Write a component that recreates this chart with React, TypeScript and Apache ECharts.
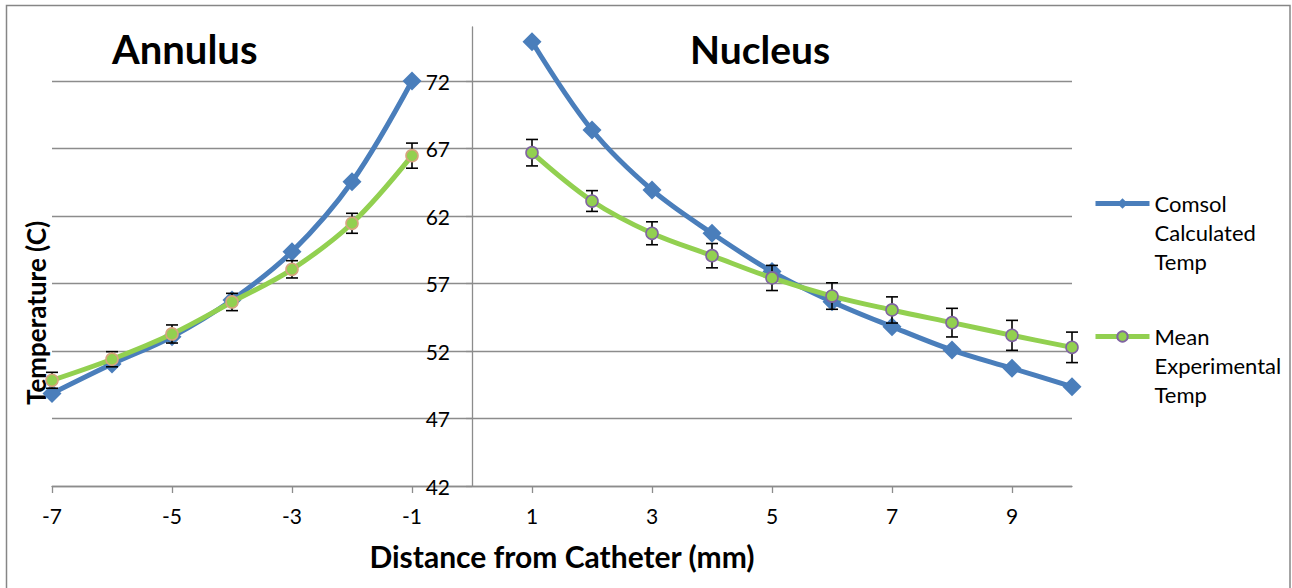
import React, { useEffect, useRef } from "react";
import * as echarts from "echarts";

// ---- data ----
const xAnnulus = [-7, -6, -5, -4, -3, -2, -1];
const xNucleus = [1, 2, 3, 4, 5, 6, 7, 8, 9, 10];

const comsolAnnulus = [48.86, 51.04, 53.06, 55.78, 59.36, 64.54, 72.0];
const comsolNucleus = [74.91, 68.37, 63.93, 60.72, 57.88, 55.65, 53.8, 52.07, 50.72, 49.36];

const meanAnnulus = [49.83, 51.39, 53.26, 55.63, 58.05, 61.46, 66.47];
const meanNucleus = [66.69, 63.11, 60.72, 59.06, 57.41, 56.07, 55.04, 54.1, 53.16, 52.27];

const errAnnulus = [0.59, 0.56, 0.67, 0.64, 0.64, 0.74, 0.93];
const errNucleus = [0.98, 0.77, 0.85, 0.9, 0.93, 0.98, 0.97, 1.06, 1.11, 1.13];

const xTickValues = [-7, -5, -3, -1, 1, 3, 5, 7, 9];
const yTickValues = [42, 47, 52, 57, 62, 67, 72];

const COMSOL = "Comsol Calculated Temp";
const MEAN = "Mean Experimental Temp";
const legendLines: Record<string, string> = {
  [COMSOL]: "\n\nComsol\nCalculated\nTemp",
  [MEAN]: "\n\nMean\nExperimental\nTemp",
};

const BLUE = "#4A7EBB";
const GREEN = "#92D050";
const GRID_GRAY = "#8C8C8C";
const FONT = "Lato";

export default function App() {
  const ref = useRef<HTMLDivElement>(null);

  useEffect(() => {
    if (!ref.current) return;
    const chart = echarts.init(ref.current, null, { renderer: "svg" });

    const pairs = (xs: number[], ys: number[]) => xs.map((x, i) => [x, ys[i]]);
    const errData = [
      ...xAnnulus.map((x, i) => [x, meanAnnulus[i] - errAnnulus[i], meanAnnulus[i] + errAnnulus[i]]),
      ...xNucleus.map((x, i) => [x, meanNucleus[i] - errNucleus[i], meanNucleus[i] + errNucleus[i]]),
    ];

    const comsolCommon = {
      type: "line",
      name: COMSOL,
      smooth: 0.35,
      symbol: "diamond",
      symbolSize: 19,
      showSymbol: true,
      lineStyle: { color: BLUE, width: 5 },
      itemStyle: { color: BLUE },
      emphasis: { disabled: true },
      z: 2,
    };
    const meanCommon = {
      type: "line",
      name: MEAN,
      smooth: 0.35,
      symbol: "circle",
      symbolSize: 12,
      lineStyle: { color: GREEN, width: 5 },
      emphasis: { disabled: true },
      z: 4,
    };

    const legendBase = {
      orient: "vertical",
      left: 1093,
      padding: 0,
      itemWidth: 54,
      itemHeight: 13,
      selectedMode: false,
      lineStyle: { width: 5 },
      formatter: (name: string) => legendLines[name] || name,
      textStyle: {
        fontFamily: FONT,
        fontSize: 22,
        color: "#000",
        lineHeight: 29,
      },
    };

    chart.setOption({
      animation: false,
      textStyle: { fontFamily: FONT },
      grid: {
        left: 52,
        right: 220,
        top: 27,
        bottom: 102,
        containLabel: false,
        outerBoundsMode: "none",
      },
      legend: [
        { ...legendBase, top: 131, data: [COMSOL] },
        { ...legendBase, top: 264, data: [MEAN] },
      ],
      xAxis: {
        type: "value",
        min: -7,
        max: 10,
        name: "Distance from Catheter (mm)",
        nameLocation: "middle",
        nameGap: 55,
        nameTextStyle: { fontFamily: FONT, fontSize: 30, fontWeight: "bold", color: "#000" },
        axisLine: { onZero: false, lineStyle: { color: GRID_GRAY, width: 1.3 } },
        axisTick: { show: true, length: 7, customValues: xTickValues, lineStyle: { color: GRID_GRAY, width: 1.3 } },
        axisLabel: { customValues: xTickValues, fontSize: 21, color: "#000", margin: 19, fontFamily: FONT },
        splitLine: { show: false },
      },
      yAxis: {
        type: "value",
        min: 42,
        max: 76,
        offset: -420,
        axisLine: { onZero: false, lineStyle: { color: GRID_GRAY, width: 1.3 } },
        axisTick: { show: true, length: 6, customValues: yTickValues, lineStyle: { color: GRID_GRAY, width: 1.3 } },
        axisLabel: { customValues: yTickValues, fontSize: 21, color: "#000", margin: 22, fontFamily: FONT },
        splitLine: { show: true, lineStyle: { color: GRID_GRAY, width: 1.3 } },
      },
      graphic: [
        {
          type: "rect",
          shape: { x: 6.5, y: 5.5, width: 1283.5, height: 600 },
          style: { fill: "none", stroke: "#868686", lineWidth: 1.5 },
          silent: true,
          z: -10,
        },
        {
          type: "text",
          x: 112,
          y: 49,
          style: { text: "Annulus", font: `bold 40px ${FONT}`, fill: "#000", verticalAlign: "middle", align: "left" },
          silent: true,
        },
        {
          type: "text",
          x: 690,
          y: 49,
          style: { text: "Nucleus", font: `bold 39px ${FONT}`, fill: "#000", verticalAlign: "middle", align: "left" },
          silent: true,
        },
        {
          type: "text",
          x: 36,
          y: 313,
          rotation: Math.PI / 2,
          style: { text: "Temperature (C)", font: `bold 26px ${FONT}`, fill: "#000", verticalAlign: "middle", align: "center" },
          silent: true,
        },
      ],
      series: [
        { ...comsolCommon, data: pairs(xNucleus, comsolNucleus) },
        { ...comsolCommon, data: pairs(xAnnulus, comsolAnnulus) },
        {
          type: "custom",
          name: "Error",
          z: 3,
          silent: true,
          encode: { x: 0, y: [1, 2] },
          data: errData,
          renderItem: (params: any, api: any) => {
            const x = api.value(0);
            const lo = api.coord([x, api.value(1)]);
            const hi = api.coord([x, api.value(2)]);
            const w = 6;
            const style = { stroke: "#000", lineWidth: 1.6 };
            return {
              type: "group",
              children: [
                { type: "line", shape: { x1: lo[0], y1: lo[1], x2: hi[0], y2: hi[1] }, style },
                { type: "line", shape: { x1: lo[0] - w, y1: lo[1], x2: lo[0] + w, y2: lo[1] }, style },
                { type: "line", shape: { x1: hi[0] - w, y1: hi[1], x2: hi[0] + w, y2: hi[1] }, style },
              ],
            };
          },
        },
        {
          ...meanCommon,
          data: pairs(xNucleus, meanNucleus),
          itemStyle: { color: GREEN, borderColor: "#8064A2", borderWidth: 1.6 },
        },
        {
          ...meanCommon,
          data: pairs(xAnnulus, meanAnnulus),
          itemStyle: { color: GREEN, borderColor: "#D6A47E", borderWidth: 1.6 },
        },
      ],
    });

    return () => chart.dispose();
  }, []);

  return (
    <div
      ref={ref}
      style={{ position: "fixed", left: 0, top: 0, width: 1292, height: 588, background: "#fff" }}
    />
  );
}
